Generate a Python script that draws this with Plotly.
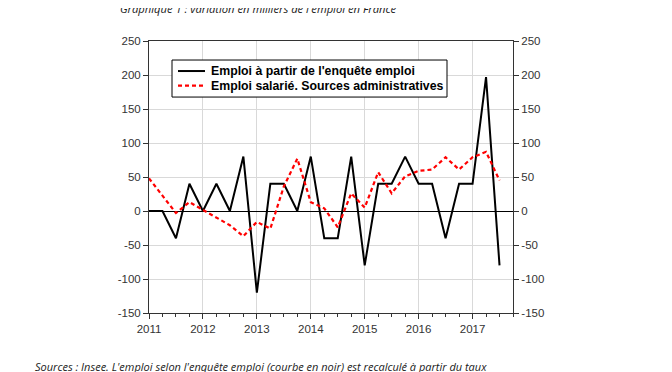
import plotly.graph_objects as go

quarters = [2011 + 0.25 * i for i in range(27)]
emploi_enquete = [0, 0, -40, 40, 0, 40, 0, 80, -120, 40, 40, 0, 80, -40, -40, 80,
                  -80, 40, 40, 80, 40, 40, -40, 40, 40, 197, -80]
emploi_salarie = [48, 22, -3, 13, 2, -9, -21, -37, -16, -26, 36, 77, 13, 4, -24, 26,
                  5, 57, 26, 51, 59, 61, 79, 61, 79, 87, 45]
year_ticks = [2011, 2012, 2013, 2014, 2015, 2016, 2017]
y_ticks = [-150, -100, -50, 0, 50, 100, 150, 200, 250]
y_ticktext = [str(v) for v in y_ticks]
series_names = ["Emploi à partir de l'enquête emploi",
                "Emploi salarié. Sources administratives"]

# page offset of the browser body (8px default margin)
OFF = 8
PL, PR, PT, PB = 149, 513, 41, 312.7  # plot area edges in page pixels


def px2x(px):
    return (px - PL) / (PR - PL)


def py2y(py):
    return (PB - py) / (PB - PT)


fig = go.Figure()
fig.add_trace(go.Scatter(x=quarters, y=emploi_enquete, mode="lines",
                         name=series_names[0],
                         line=dict(color="black", width=2)))
fig.add_trace(go.Scatter(x=quarters, y=emploi_salarie, mode="lines",
                         name=series_names[1],
                         line=dict(color="#ff0000", width=2.2, dash="4px,3px")))
fig.add_trace(go.Scatter(x=quarters, y=emploi_salarie, mode="lines", yaxis="y2",
                         showlegend=False, hoverinfo="skip",
                         line=dict(color="rgba(0,0,0,0)", width=0)))

axis_font = dict(family="Liberation Sans, Arial", size=11.5, color="#333")
legend_font = dict(family="Liberation Sans, Arial", size=12.3, color="black", weight="bold")
title_font = dict(family="Open Sans", size=11.2, color="#1a1a1a", style="italic")
note_font = dict(family="Open Sans", size=11, color="#1a1a1a", style="italic")

shapes = [
    dict(type="rect", xref="paper", yref="paper", layer="above",
         x0=px2x(172), x1=px2x(447), y0=py2y(97), y1=py2y(60),
         fillcolor="white", line=dict(color="black", width=1)),
    dict(type="line", xref="paper", yref="paper", layer="above",
         x0=px2x(178), x1=px2x(205), y0=py2y(71), y1=py2y(71),
         line=dict(color="black", width=2)),
    dict(type="line", xref="paper", yref="paper", layer="above",
         x0=px2x(178), x1=px2x(205), y0=py2y(85.5), y1=py2y(85.5),
         line=dict(color="#ff0000", width=2.2, dash="4px,3px")),
]

annotations = [
    dict(text=series_names[0], xref="paper", yref="paper", x=px2x(209), y=py2y(71),
         xanchor="left", yanchor="middle", showarrow=False, font=legend_font),
    dict(text=series_names[1], xref="paper", yref="paper", x=px2x(209), y=py2y(85.5),
         xanchor="left", yanchor="middle", showarrow=False, font=legend_font),
    dict(text="Graphique 1 : variation en milliers de l'emploi en France",
         xref="paper", yref="paper", x=px2x(258), y=py2y(9),
         xanchor="center", yanchor="middle", showarrow=False, font=title_font),
    dict(text="Sources : Insee. L'emploi selon l'enquête emploi (courbe en noir) est recalculé à partir du taux",
         xref="paper", yref="paper", x=px2x(33), y=py2y(366.5),
         xanchor="left", yanchor="middle", showarrow=False, font=note_font),
]

fig.update_layout(
    width=672, height=372,
    margin=dict(l=PL - OFF, r=672 - PR + OFF, t=PT - OFF, b=372 - PB + OFF, pad=0),
    paper_bgcolor="white", plot_bgcolor="white",
    showlegend=False,
    xaxis=dict(range=[2011, 2017.75], tickvals=year_ticks, ticktext=[str(y) for y in year_ticks],
               showgrid=True, gridcolor="#d9d9d9", gridwidth=1,
               showline=True, linecolor="#333", linewidth=1, mirror=True,
               ticks="outside", ticklen=5, tickcolor="#333",
               minor=dict(dtick=0.25, tick0=2011, ticks="outside", ticklen=3,
                          tickcolor="#333", showgrid=False),
               tickfont=axis_font, zeroline=False),
    yaxis=dict(range=[-150, 250], tickvals=y_ticks, ticktext=y_ticktext,
               showgrid=True, gridcolor="#d9d9d9", gridwidth=1,
               showline=True, linecolor="#333", linewidth=1,
               ticks="outside", ticklen=5, tickcolor="#333",
               zeroline=True, zerolinecolor="black", zerolinewidth=1,
               tickfont=axis_font),
    yaxis2=dict(range=[-150, 250], tickvals=y_ticks, ticktext=y_ticktext,
                overlaying="y", side="right",
                showgrid=False, showline=True, linecolor="#333", linewidth=1,
                ticks="outside", ticklen=5, tickcolor="#333", zeroline=False,
                tickfont=axis_font),
    shapes=shapes,
    annotations=annotations,
)

fig.write_html("out.html")
